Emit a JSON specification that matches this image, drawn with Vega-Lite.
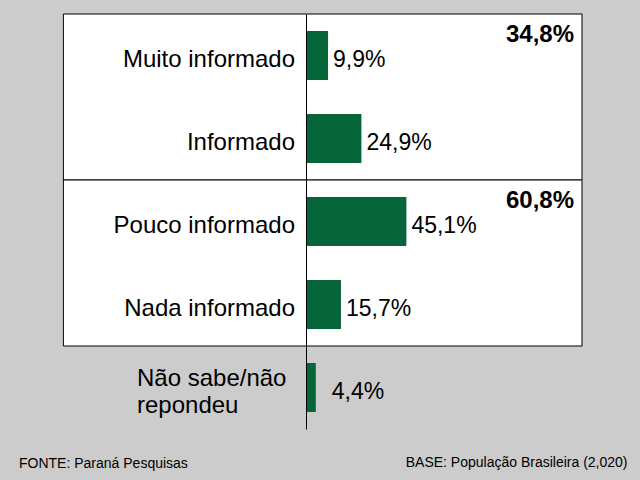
{
  "$schema": "https://vega.github.io/schema/vega-lite/v6.json",
  "width": 276,
  "height": 415,
  "autosize": {"type": "none"},
  "padding": {"left": 306, "top": 14, "right": 58, "bottom": 51},
  "background": "#cccccc",
  "config": {"view": {"stroke": null}, "font": "Liberation Sans"},
  "title": {"text": "FONTE: Paraná Pesquisas", "orient": "bottom", "anchor": "start", "frame": "group", "dx": -287, "dy": -12, "offset": 0, "baseline": "top", "fontSize": 14, "fontWeight": "normal", "font": "Liberation Sans", "color": "#000000"},
  "resolve": {"scale": {"y": "independent"}},
  "layer": [
    {
      "data": {"values": [
        {"group": "Informados", "start": 0, "end": 2, "total": "34,8%"},
        {"group": "Pouco/nada informados", "start": 2, "end": 4, "total": "60,8%"}
      ]},
      "encoding": {
        "y": {"field": "start", "type": "quantitative", "scale": {"domain": [0, 5], "reverse": true, "nice": false, "zero": false}, "axis": null}
      },
      "layer": [
        {
          "mark": {"type": "rect", "fill": "#ffffff", "stroke": "#000000", "strokeWidth": 1},
          "encoding": {
            "x": {"datum": -109, "type": "quantitative"},
            "x2": {"datum": 124},
            "y2": {"field": "end"}
          }
        },
        {
          "mark": {"type": "text", "align": "right", "baseline": "middle", "fontSize": 24, "fontWeight": "bold", "dx": -8, "dy": 21, "color": "#000000"},
          "encoding": {
            "x": {"datum": 124, "type": "quantitative"},
            "text": {"field": "total"}
          }
        }
      ]
    },
    {
      "data": {"values": [
        {"cat": "Muito informado", "pct": 9.9, "label": "9,9%", "name": "Muito informado"},
        {"cat": "Informado", "pct": 24.9, "label": "24,9%", "name": "Informado"},
        {"cat": "Pouco informado", "pct": 45.1, "label": "45,1%", "name": "Pouco informado"},
        {"cat": "Nada informado", "pct": 15.7, "label": "15,7%", "name": "Nada informado"},
        {"cat": "Não sabe/não repondeu", "pct": 4.4, "label": "4,4%", "name": "Não sabe/não\nrepondeu"}
      ]},
      "layer": [
        {
          "mark": {"type": "bar", "color": "#06663a"},
          "encoding": {
            "x": {"field": "pct", "type": "quantitative", "scale": {"domain": [0, 124], "nice": false}, "axis": {"title": "BASE: População Brasileira (2,020)", "domain": false, "ticks": false, "labels": false, "grid": false, "titleAnchor": "end", "titleAlign": "right", "titleX": 321, "titleY": 33, "titleBaseline": "middle", "titleFontSize": 14, "titleFontWeight": "normal", "titleColor": "#000000", "titleFont": "Liberation Sans"}},
            "y": {"field": "cat", "type": "nominal", "scale": {"domain": ["Muito informado", "Informado", "Pouco informado", "Nada informado", "Não sabe/não repondeu"], "paddingInner": 0.41, "paddingOuter": 0.205}, "axis": {"labels": false, "ticks": false, "domain": true, "domainColor": "#000000", "domainWidth": 1, "title": null, "grid": false, "zindex": 1}}
          }
        },
        {
          "transform": [{"filter": "datum.pct >= 5"}],
          "mark": {"type": "text", "align": "left", "baseline": "middle", "fontSize": 23, "dx": 5, "dy": 4, "color": "#000000"},
          "encoding": {
            "x": {"field": "pct", "type": "quantitative"},
            "y": {"field": "cat", "type": "nominal"},
            "text": {"field": "label"}
          }
        },
        {
          "transform": [{"filter": "datum.pct < 5"}],
          "mark": {"type": "text", "align": "left", "baseline": "middle", "fontSize": 23, "dx": 16, "dy": 4, "color": "#000000"},
          "encoding": {
            "x": {"field": "pct", "type": "quantitative"},
            "y": {"field": "cat", "type": "nominal"},
            "text": {"field": "label"}
          }
        },
        {
          "transform": [{"filter": "datum.cat != 'Não sabe/não repondeu'"}],
          "mark": {"type": "text", "align": "right", "baseline": "middle", "fontSize": 24, "dx": -11, "dy": 4, "color": "#000000"},
          "encoding": {
            "x": {"datum": 0, "type": "quantitative"},
            "y": {"field": "cat", "type": "nominal"},
            "text": {"field": "name"}
          }
        },
        {
          "transform": [{"filter": "datum.cat == 'Não sabe/não repondeu'"}],
          "mark": {"type": "text", "align": "left", "baseline": "middle", "fontSize": 24, "lineHeight": 27, "lineBreak": "\n", "dx": -169, "dy": -9, "color": "#000000"},
          "encoding": {
            "x": {"datum": 0, "type": "quantitative"},
            "y": {"field": "cat", "type": "nominal"},
            "text": {"field": "name"}
          }
        }
      ]
    }
  ]
}
